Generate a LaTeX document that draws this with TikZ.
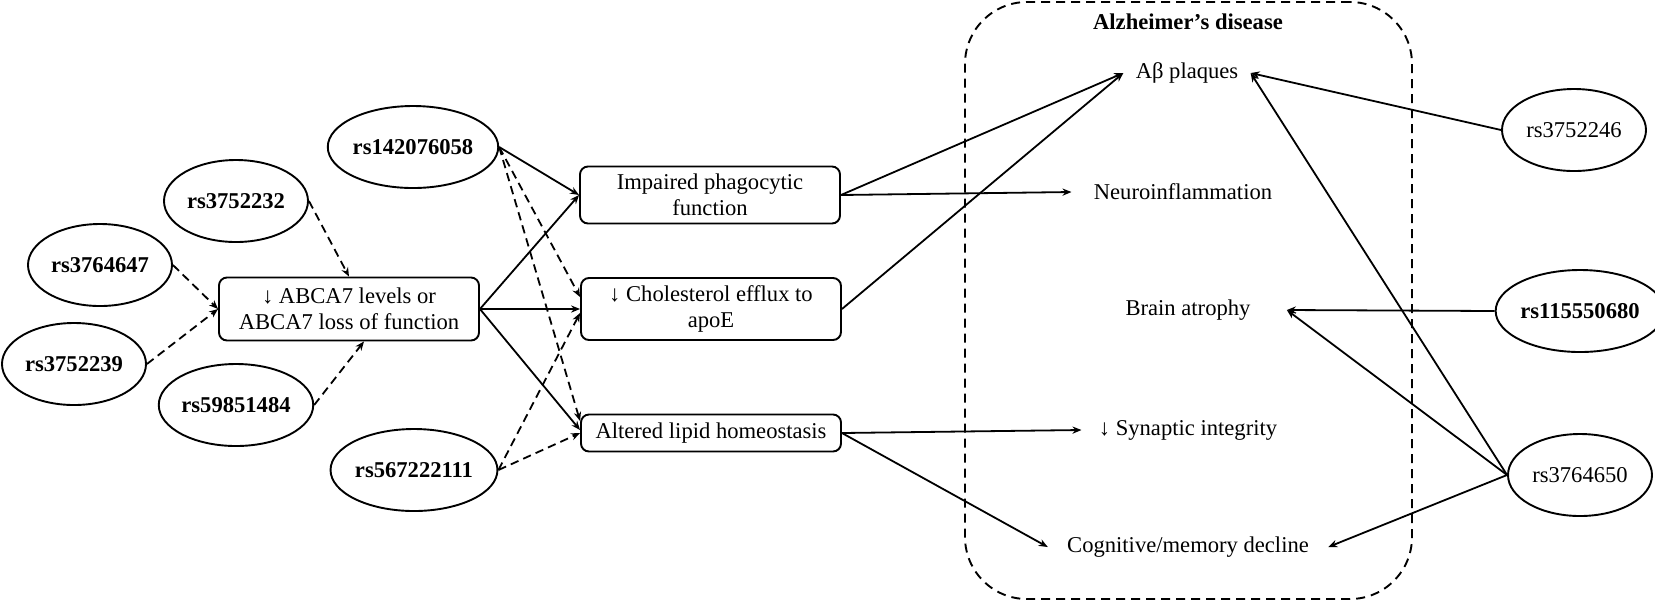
\documentclass[tikz,border=0pt]{standalone}
\usepackage{fontspec}
\setmainfont{Liberation Serif}
\usetikzlibrary{arrows.meta,shapes.geometric}
\begin{document}
\begin{tikzpicture}[x=0.5pt,y=-0.5pt,
  font=\fontsize{11.3}{13}\selectfont,
  snp/.style={ellipse,draw,line width=0.95pt,minimum width=72pt,minimum height=41pt,inner sep=0pt},
  snpb/.style={snp,font=\fontsize{11.3}{13}\selectfont\bfseries},
  mech/.style={draw,rounded corners=4pt,line width=0.95pt,minimum width=130pt,align=center,inner sep=0pt},
  eff/.style={inner ysep=2pt},
  sol/.style={-{Stealth[length=4.5pt,width=3.6pt]},line width=0.9pt},
  dsh/.style={sol,dash pattern=on 4.2pt off 2.6pt},
]
\useasboundingbox (0,0) rectangle (1655,602);
% Alzheimer's disease frame
\node[draw,dash pattern=on 4.5pt off 3pt,line width=0.95pt,rounded corners=31pt,
      minimum width=223.5pt,minimum height=298.5pt,inner sep=0pt] (ad) at (1188.5,300.5) {};
\node[font=\fontsize{11.3}{13}\selectfont\bfseries] (title) at (1188,22) {Alzheimer’s disease};
% effects
\node[eff,inner xsep=6pt] (ab) at (1187,73) {Aβ plaques};
\node[eff,inner xsep=11pt] (ni) at (1183,192) {Neuroinflammation};
\node[eff,inner xsep=18pt] (ba) at (1188,310) {Brain atrophy};
\node[eff,inner xsep=8.5pt] (syn) at (1188,430) {↓ Synaptic integrity};
\node[eff,inner xsep=9.5pt] (cog) at (1188,547) {Cognitive/memory decline};
% SNPs left
\node[snpb] (r058) at (413,147) {rs142076058};
\node[snpb] (r232) at (236,201) {rs3752232};
\node[snpb] (r647) at (100,265) {rs3764647};
\node[snpb] (r239) at (74,364) {rs3752239};
\node[snpb] (r484) at (236,405) {rs59851484};
\node[snpb] (r111) at (414,470) {rs567222111};
% SNPs right
\node[snp] (r246) at (1574,130) {rs3752246};
\node[snpb] (r680) at (1580,311) {rs115550680};
\node[snp] (r650) at (1580,475) {rs3764650};
% mechanism boxes
\node[mech,minimum height=31.5pt] (abca) at (349,309) {↓ ABCA7 levels or\\ABCA7 loss of function};
\node[mech,minimum height=28.5pt] (imp) at (710,195) {Impaired phagocytic\\function};
\node[mech,minimum height=31pt] (chol) at (711,309) {↓ Cholesterol efflux to\\apoE};
\node[mech,minimum height=18.5pt] (alt) at (711,433) {Altered lipid homeostasis};
% dashed SNP -> ABCA7
\draw[dsh] (r232.east) -- (abca.north);
\draw[dsh] (r647.east) -- (abca.west);
\draw[dsh] (r239.east) -- (abca.west);
\draw[dsh] (r484.east) -- ([xshift=7.5pt]abca.south);
% ABCA7 -> mechanisms
\draw[sol] (abca.east) -- (imp.west);
\draw[sol] (abca.east) -- (chol.west);
\draw[sol] (abca.east) -- ([yshift=1.5pt]alt.west);
% rs142076058
\draw[sol] (r058.east) -- (imp.west);
\draw[dsh] (r058.east) -- ([yshift=6pt]chol.west);
\draw[dsh] (r058.east) -- ([yshift=6pt]alt.west);
% rs567222111
\draw[dsh] (r111.east) -- ([yshift=-2pt]chol.west);
\draw[dsh] (r111.east) -- (alt.west);
% mechanisms -> effects
\draw[sol] (imp.east) -- (ab.west);
\draw[sol] (imp.east) -- (ni.west);
\draw[sol] (chol.east) -- (ab.west);
\draw[sol] (alt.east) -- (syn.west);
\draw[sol] (alt.east) -- (cog.west);
% right SNPs -> effects
\draw[sol] (r246.west) -- (ab.east);
\draw[sol] (r680.west) -- (ba.east);
\draw[sol] (r650.west) -- (ab.east);
\draw[sol] (r650.west) -- (ba.east);
\draw[sol] (r650.west) -- (cog.east);
\end{tikzpicture}
\end{document}
